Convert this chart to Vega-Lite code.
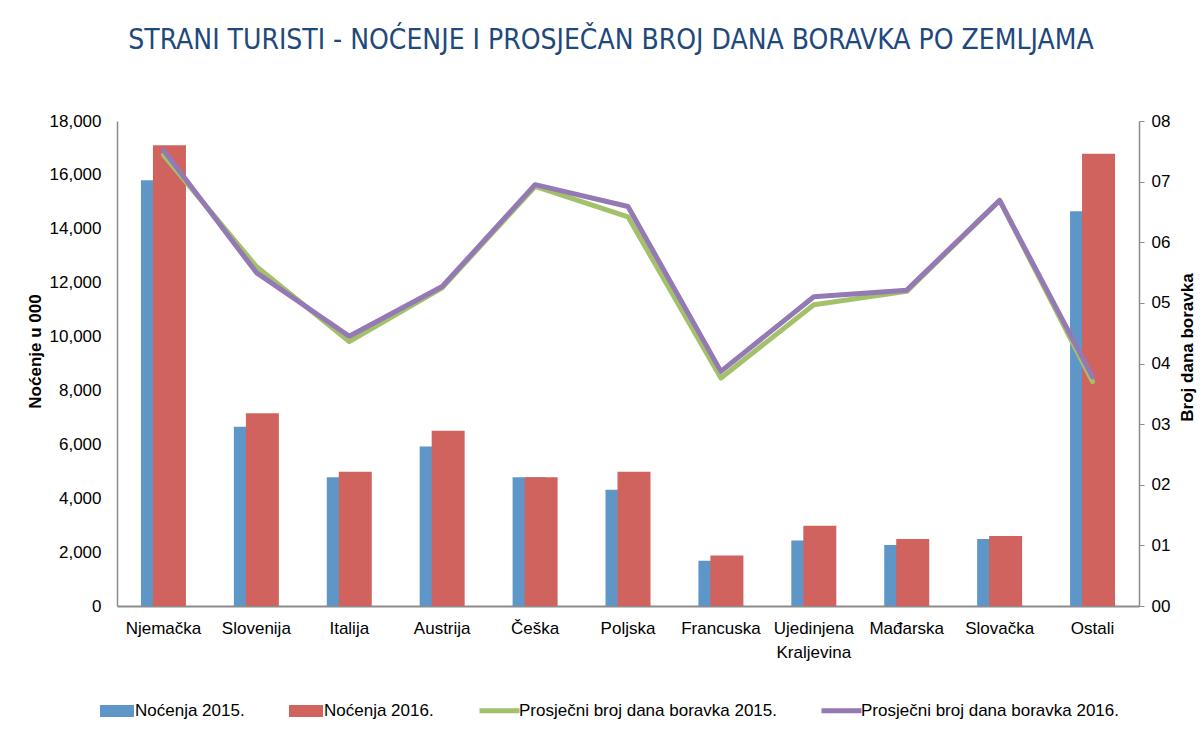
{
  "$schema": "https://vega.github.io/schema/vega-lite/v6.json",
  "width": 1022,
  "height": 485,
  "autosize": {"type": "none"},
  "padding": {"left": 117, "top": 121, "right": 63, "bottom": 126},
  "background": "white",
  "title": {
    "text": "STRANI TURISTI - NOĆENJE I PROSJEČAN BROJ DANA BORAVKA PO ZEMLJAMA",
    "font": "Liberation Sans Narrow, DejaVu Sans Condensed, Roboto, sans-serif",
    "fontSize": 28,
    "fontWeight": "normal",
    "color": "#1F497D",
    "anchor": "middle",
    "dx": -17,
    "offset": 57
  },
  "data": {"values": [
    {"zemlja": "Njemačka", "serija": "Noćenja 2015.", "v": 15800},
    {"zemlja": "Slovenija", "serija": "Noćenja 2015.", "v": 6650},
    {"zemlja": "Italija", "serija": "Noćenja 2015.", "v": 4780},
    {"zemlja": "Austrija", "serija": "Noćenja 2015.", "v": 5920},
    {"zemlja": "Češka", "serija": "Noćenja 2015.", "v": 4780},
    {"zemlja": "Poljska", "serija": "Noćenja 2015.", "v": 4310},
    {"zemlja": "Francuska", "serija": "Noćenja 2015.", "v": 1680},
    {"zemlja": "Ujedinjena Kraljevina", "serija": "Noćenja 2015.", "v": 2430},
    {"zemlja": "Mađarska", "serija": "Noćenja 2015.", "v": 2260},
    {"zemlja": "Slovačka", "serija": "Noćenja 2015.", "v": 2490},
    {"zemlja": "Ostali", "serija": "Noćenja 2015.", "v": 14650},
    {"zemlja": "Njemačka", "serija": "Noćenja 2016.", "v": 17100},
    {"zemlja": "Slovenija", "serija": "Noćenja 2016.", "v": 7150},
    {"zemlja": "Italija", "serija": "Noćenja 2016.", "v": 4980},
    {"zemlja": "Austrija", "serija": "Noćenja 2016.", "v": 6500},
    {"zemlja": "Češka", "serija": "Noćenja 2016.", "v": 4780},
    {"zemlja": "Poljska", "serija": "Noćenja 2016.", "v": 4980},
    {"zemlja": "Francuska", "serija": "Noćenja 2016.", "v": 1870},
    {"zemlja": "Ujedinjena Kraljevina", "serija": "Noćenja 2016.", "v": 2980},
    {"zemlja": "Mađarska", "serija": "Noćenja 2016.", "v": 2490},
    {"zemlja": "Slovačka", "serija": "Noćenja 2016.", "v": 2600},
    {"zemlja": "Ostali", "serija": "Noćenja 2016.", "v": 16780},
    {"zemlja": "Njemačka", "serija": "Prosječni broj dana boravka 2015.", "v": 7.44},
    {"zemlja": "Slovenija", "serija": "Prosječni broj dana boravka 2015.", "v": 5.6},
    {"zemlja": "Italija", "serija": "Prosječni broj dana boravka 2015.", "v": 4.36},
    {"zemlja": "Austrija", "serija": "Prosječni broj dana boravka 2015.", "v": 5.25},
    {"zemlja": "Češka", "serija": "Prosječni broj dana boravka 2015.", "v": 6.92},
    {"zemlja": "Poljska", "serija": "Prosječni broj dana boravka 2015.", "v": 6.42},
    {"zemlja": "Francuska", "serija": "Prosječni broj dana boravka 2015.", "v": 3.76},
    {"zemlja": "Ujedinjena Kraljevina", "serija": "Prosječni broj dana boravka 2015.", "v": 4.97},
    {"zemlja": "Mađarska", "serija": "Prosječni broj dana boravka 2015.", "v": 5.19},
    {"zemlja": "Slovačka", "serija": "Prosječni broj dana boravka 2015.", "v": 6.69},
    {"zemlja": "Ostali", "serija": "Prosječni broj dana boravka 2015.", "v": 3.7},
    {"zemlja": "Njemačka", "serija": "Prosječni broj dana boravka 2016.", "v": 7.52},
    {"zemlja": "Slovenija", "serija": "Prosječni broj dana boravka 2016.", "v": 5.5},
    {"zemlja": "Italija", "serija": "Prosječni broj dana boravka 2016.", "v": 4.45},
    {"zemlja": "Austrija", "serija": "Prosječni broj dana boravka 2016.", "v": 5.27},
    {"zemlja": "Češka", "serija": "Prosječni broj dana boravka 2016.", "v": 6.95},
    {"zemlja": "Poljska", "serija": "Prosječni broj dana boravka 2016.", "v": 6.59},
    {"zemlja": "Francuska", "serija": "Prosječni broj dana boravka 2016.", "v": 3.87},
    {"zemlja": "Ujedinjena Kraljevina", "serija": "Prosječni broj dana boravka 2016.", "v": 5.1},
    {"zemlja": "Mađarska", "serija": "Prosječni broj dana boravka 2016.", "v": 5.21},
    {"zemlja": "Slovačka", "serija": "Prosječni broj dana boravka 2016.", "v": 6.69},
    {"zemlja": "Ostali", "serija": "Prosječni broj dana boravka 2016.", "v": 3.78}
  ]},
  "encoding": {
    "x": {
      "field": "zemlja",
      "type": "nominal",
      "sort": ["Njemačka", "Slovenija", "Italija", "Austrija", "Češka", "Poljska", "Francuska", "Ujedinjena Kraljevina", "Mađarska", "Slovačka", "Ostali"],
      "scale": {"paddingInner": 0, "paddingOuter": 0},
      "axis": {
        "title": null,
        "labelAngle": 0,
        "labelFont": "Liberation Sans, Arial, sans-serif",
        "labelFontSize": 17,
        "labelColor": "#000000",
        "labelPadding": 14,
        "labelLineHeight": 24,
        "labelExpr": "datum.value == 'Ujedinjena Kraljevina' ? ['Ujedinjena', 'Kraljevina'] : datum.value",
        "ticks": false,
        "domainColor": "#8c8c8c",
        "domainWidth": 2,
        "grid": false
      }
    }
  },
  "layer": [
    {
      "layer": [
        {
          "transform": [{"filter": "datum.serija == 'Noćenja 2015.'"}],
          "mark": {"type": "bar", "width": 33, "xOffset": -6},
          "encoding": {
            "y": {"field": "v", "type": "quantitative"}
          }
        },
        {
          "transform": [{"filter": "datum.serija == 'Noćenja 2016.'"}],
          "mark": {"type": "bar", "width": 33, "xOffset": 6},
          "encoding": {
            "y": {"field": "v", "type": "quantitative"}
          }
        }
      ],
      "encoding": {
        "fill": {
          "field": "serija",
          "type": "nominal",
          "scale": {"domain": ["Noćenja 2015.", "Noćenja 2016."], "range": ["#5F96C8", "#D0635E"]},
          "legend": {
            "title": null,
            "orient": "none",
            "direction": "horizontal",
            "legendX": -17,
            "legendY": 573,
            "padding": 0,
            "labelFont": "Liberation Sans, Arial, sans-serif",
            "labelFontSize": 17,
            "labelColor": "#000000",
            "labelOffset": 1,
            "labelLimit": 400,
            "columnPadding": 44,
            "symbolType": "M-1,-0.35L1,-0.35L1,0.35L-1,0.35Z",
            "symbolSize": 1156,
            "symbolStrokeWidth": 0
          }
        },
        "y": {
          "field": "v",
          "type": "quantitative",
          "scale": {"domain": [0, 18000], "nice": false},
          "axis": {
            "orient": "left",
            "title": "Noćenje u 000",
            "titleFont": "Liberation Sans, Arial, sans-serif",
            "titleFontSize": 17,
            "titleFontWeight": "bold",
            "titleColor": "#000000",
            "titlePadding": 5,
            "titleY": 230,
            "values": [0, 2000, 4000, 6000, 8000, 10000, 12000, 14000, 16000, 18000],
            "format": ",d",
            "labelFont": "Liberation Sans, Arial, sans-serif",
            "labelFontSize": 17,
            "labelColor": "#000000",
            "labelPadding": 16,
            "ticks": false,
            "grid": false,
            "domainColor": "#8c8c8c",
            "domainWidth": 1.5
          }
        }
      }
    },
    {
      "layer": [
        {
          "transform": [{"filter": "datum.serija == 'Prosječni broj dana boravka 2015.'"}],
          "mark": {"type": "line", "strokeWidth": 5, "strokeJoin": "round", "strokeCap": "round"},
          "encoding": {
            "y": {"field": "v", "type": "quantitative"}
          }
        },
        {
          "transform": [{"filter": "datum.serija == 'Prosječni broj dana boravka 2016.'"}],
          "mark": {"type": "line", "strokeWidth": 5, "strokeJoin": "round", "strokeCap": "round"},
          "encoding": {
            "y": {"field": "v", "type": "quantitative"}
          }
        }
      ],
      "encoding": {
        "stroke": {
          "field": "serija",
          "type": "nominal",
          "scale": {"domain": ["Prosječni broj dana boravka 2015.", "Prosječni broj dana boravka 2016."], "range": ["#A3C16A", "#9479B5"]},
          "legend": {
            "title": null,
            "orient": "none",
            "direction": "horizontal",
            "legendX": 360,
            "legendY": 567,
            "padding": 0,
            "labelFont": "Liberation Sans, Arial, sans-serif",
            "labelFontSize": 17,
            "labelColor": "#000000",
            "labelOffset": -3,
            "labelLimit": 400,
            "columnPadding": 34,
            "symbolType": "stroke",
            "symbolSize": 1600,
            "symbolStrokeWidth": 5
          }
        },
        "y": {
          "field": "v",
          "type": "quantitative",
          "scale": {"domain": [0, 8], "nice": false},
          "axis": {
            "orient": "right",
            "title": "Broj dana boravka",
            "titleAngle": 270,
            "titleFont": "Liberation Sans, Arial, sans-serif",
            "titleFontSize": 17,
            "titleFontWeight": "bold",
            "titleColor": "#000000",
            "titlePadding": 27,
            "titleY": 226,
            "values": [0, 1, 2, 3, 4, 5, 6, 7, 8],
            "format": "02d",
            "labelFont": "Liberation Sans, Arial, sans-serif",
            "labelFontSize": 17,
            "labelColor": "#000000",
            "labelPadding": 7,
            "ticks": true,
            "tickSize": 5,
            "tickColor": "#8c8c8c",
            "grid": false,
            "domainColor": "#8c8c8c",
            "domainWidth": 1.5
          }
        }
      }
    }
  ],
  "resolve": {"scale": {"y": "independent"}},
  "config": {
    "view": {"stroke": null}
  }
}
